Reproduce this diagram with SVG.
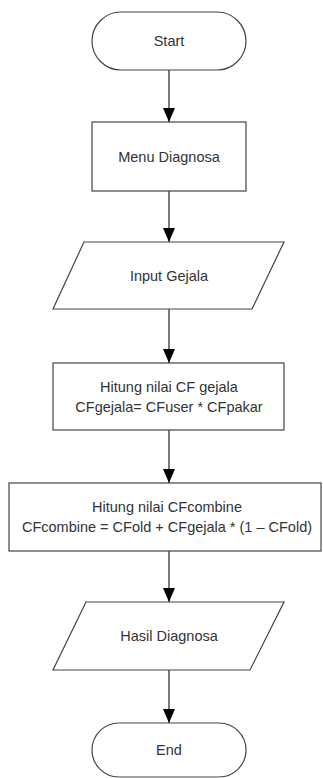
<svg xmlns="http://www.w3.org/2000/svg" width="323" height="778" viewBox="0 0 323 778">
<style>
.s{fill:#fff;stroke:#444;stroke-width:1.2}
.t{font-family:"Liberation Sans",Arial,sans-serif;font-size:14.5px;fill:#333;text-anchor:middle}
.c{stroke:#222;stroke-width:1.2;fill:none}
</style>
<defs>
<marker id="ah" viewBox="0 0 14 12" refX="14" refY="6" markerWidth="14" markerHeight="12" markerUnits="userSpaceOnUse" orient="auto">
<path d="M0,0 L14,6 L0,12 Z" fill="#000"/>
</marker>
</defs>
<rect width="323" height="778" fill="#fff"/>
<g id="connectors">
<line class="c" x1="169" y1="70" x2="169" y2="122" marker-end="url(#ah)"/>
<line class="c" x1="169" y1="191" x2="169" y2="242" marker-end="url(#ah)"/>
<line class="c" x1="169" y1="309" x2="169" y2="363" marker-end="url(#ah)"/>
<line class="c" x1="169" y1="430" x2="169" y2="483" marker-end="url(#ah)"/>
<line class="c" x1="169" y1="551" x2="169" y2="602" marker-end="url(#ah)"/>
<line class="c" x1="169" y1="670" x2="169" y2="723" marker-end="url(#ah)"/>
</g>
<g id="start">
<rect class="s" x="92" y="12" width="154" height="58" rx="29" ry="29"/>
<text class="t" x="169" y="46">Start</text>
</g>
<g id="menu">
<rect class="s" x="92" y="122" width="154" height="69"/>
<text class="t" x="169" y="162">Menu Diagnosa</text>
</g>
<g id="input">
<polygon class="s" points="84,242 284,242 252,309 53,309"/>
<text class="t" x="169" y="281">Input Gejala</text>
</g>
<g id="hitungcf">
<rect class="s" x="53" y="363" width="231" height="67"/>
<text class="t" x="169" y="392">Hitung nilai CF gejala</text>
<text class="t" x="169" y="412">CFgejala= CFuser * CFpakar</text>
</g>
<g id="hitungcomb">
<rect class="s" x="9" y="483" width="312" height="68"/>
<text class="t" x="167" y="512">Hitung nilai CFcombine</text>
<text class="t" x="167" y="532">CFcombine = CFold + CFgejala * (1 – CFold)</text>
</g>
<g id="hasil">
<polygon class="s" points="86,602 284,602 250,670 53,670"/>
<text class="t" x="169" y="641">Hasil Diagnosa</text>
</g>
<g id="end">
<rect class="s" x="92" y="723" width="154" height="54" rx="27" ry="27"/>
<text class="t" x="169" y="755">End</text>
</g>
</svg>
